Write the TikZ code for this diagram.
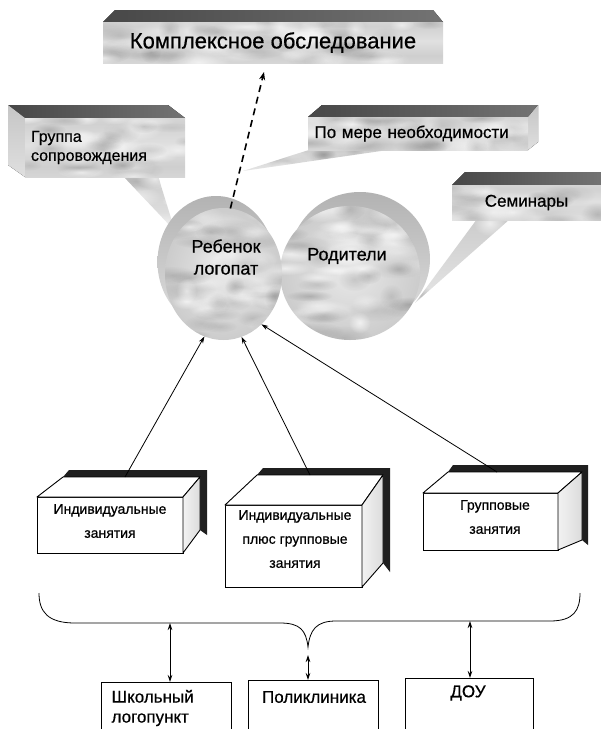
\documentclass[tikz,border=0pt]{standalone}
\usepackage{fontspec}
\setmainfont{Liberation Sans}[FakeBold=0.6]
\usetikzlibrary{arrows.meta,shapes.geometric,calc,fadings}
\pgfdeclareverticalshading{mottle}{100bp}{color(0bp)=(gray!42); color(18bp)=(gray!28); color(34bp)=(gray!38); color(52bp)=(gray!24); color(70bp)=(gray!36); color(86bp)=(gray!26); color(100bp)=(gray!40)}
\tikzfading[name=fuzzy, inner color=transparent!0, outer color=transparent!100]
\newcommand\mottleblobs[5]{%
  \foreach \k in {1,...,#5}{%
    \pgfmathsetmacro\bx{#1+rnd*(#3-#1)}%
    \pgfmathsetmacro\by{#2+rnd*(#4-#2)}%
    \pgfmathsetmacro\bw{10+rnd*22}%
    \pgfmathsetmacro\bh{5+rnd*8}%
    \pgfmathsetmacro\bo{0.3+0.4*rnd}%
    \fill[white, fill opacity=\bo, path fading=fuzzy] (\bx,\by) ellipse [x radius=\bw, y radius=\bh];
    \pgfmathsetmacro\cx{#1+rnd*(#3-#1)}%
    \pgfmathsetmacro\cy{#2+rnd*(#4-#2)}%
    \pgfmathsetmacro\co{0.06+0.12*rnd}%
    \fill[black, fill opacity=\co, path fading=fuzzy] (\cx,\cy) ellipse [x radius=\bw, y radius=\bh];
  }}
\newcommand\mottle[6]{\begin{scope}\clip #1;\mottleblobs{#2}{#3}{#4}{#5}{#6}\end{scope}}
\tikzset{
  frontface/.style={shade, shading=mottle, inner sep=4pt, outer sep=0pt},
  topface/.style={left color=black!72, right color=black!55},
  sideface/.style={top color=gray!45, bottom color=gray!25},
  tailshade/.style={top color=gray!40, bottom color=gray!20},
  discmain/.style={ellipse, shade, inner color=gray!18, outer color=gray!40, outer sep=0pt, inner sep=0pt},
  discback/.style={top color=gray!60, bottom color=gray!25},
  disctext/.style={font=\fontsize{18}{22}\selectfont, align=center},
  cubefront/.style={draw, fill=white, line width=0.9pt, inner sep=0pt, outer sep=0pt},
  cubetop/.style={draw, fill=white, line width=0.9pt, line join=round},
  cubeside/.style={draw, line width=0.9pt, line join=round, left color=gray!10, right color=gray!28},
  cubeshadow/.style={fill=black!88},
  cubetext/.style={font=\fontsize{14}{24}\selectfont, align=center},
  arr/.style={-{Stealth[length=7pt,width=4.5pt]}, line width=0.8pt},
  darr/.style={{Stealth[length=7pt,width=4.5pt]}-{Stealth[length=7pt,width=4.5pt]}, line width=0.8pt},
  dasharrow/.style={-{Stealth[length=8pt,width=6pt]}, line width=1.6pt, dash pattern=on 7pt off 5pt},
  plainbox/.style={draw, line width=0.9pt, fill=white, inner sep=0pt, outer sep=0pt},
  boxtext/.style={font=\fontsize{17}{20}\selectfont, align=left}
}
\begin{document}
\begin{tikzpicture}[x=1pt,y=-1pt]
\pgfmathsetseed{11}
\useasboundingbox (0,0) rectangle (601,729);
\clip (0,0) rectangle (601,729);

% ---- top box
\fill[topface] (103,22) -- (115,10) -- (433,10) -- (443,22) -- cycle;
\node[frontface, minimum width=340pt, minimum height=41pt] (exam) at (273,42.5) {};
\mottle{(exam.north west) rectangle (exam.south east)}{103}{22}{443}{63}{30}
\node[font=\fontsize{22}{26}\selectfont] (examtext) at (exam.center) {Комплексное обследование};
\coordinate (examend) at (264,72);

% ---- callout tails
\shade[tailshade] (123,176) -- (175,231) -- (158,176) -- cycle;
\mottle{(123,176) -- (175,231) -- (158,176) -- cycle}{123}{176}{175}{231}{6}
\shade[tailshade] (312,149) -- (243,171) -- (388,150) -- cycle;
\mottle{(312,149) -- (243,171) -- (388,150) -- cycle}{243}{149}{388}{171}{6}
\shade[tailshade] (477,219) -- (415,303) -- (510,219) -- cycle;
\mottle{(477,219) -- (415,303) -- (510,219) -- cycle}{415}{219}{510}{303}{6}

% ---- Группа сопровождения
\fill[topface] (8,105) -- (168,105) -- (185,118) -- (25,118) -- cycle;
\fill[sideface] (8,105) -- (25,118) -- (25,177) -- (8,165) -- cycle;
\node[frontface, minimum width=160pt, minimum height=59pt] (grp) at (105,147.5) {};
\mottle{(grp.north west) rectangle (grp.south east)}{25}{118}{185}{177}{18}
\node[text width=148pt, align=left, font=\fontsize{16}{19}\selectfont] (grptext) at (grp.center) {Группа\\сопровождения};

% ---- По мере необходимости
\fill[topface] (308,117) -- (322,105) -- (538,105) -- (528,117) -- cycle;
\fill[sideface] (528,117) -- (538,105) -- (538,142) -- (528,150) -- cycle;
\node[frontface, minimum width=220pt, minimum height=33pt] (need) at (418,133.5) {};
\mottle{(need.north west) rectangle (need.south east)}{308}{117}{528}{150}{18}
\node[text width=207pt, align=left, font=\fontsize{17}{20}\selectfont] (needtext) at (need.center) {По мере необходимости};

% ---- Семинары
\fill[topface] (452,185) -- (465,172) -- (601,172) -- (601,185) -- cycle;
\node[frontface, minimum width=149pt, minimum height=35pt] (sem) at (526.5,202.5) {};
\mottle{(sem.north west) rectangle (sem.south east)}{452}{185}{601}{220}{12}
\node[font=\fontsize{17}{20}\selectfont] (semtext) at (sem.center) {Семинары};

% ---- discs
\path[discback] (360,259) ellipse [x radius=70, y radius=67];
\node[discmain, minimum width=140pt, minimum height=134pt] (par) at (350,273) {};
\mottle{(par.center) ellipse [x radius=70, y radius=67]}{280}{206}{420}{340}{32}
\path[discback] (216,262) ellipse [x radius=58.5, y radius=66];
\node[discmain, minimum width=117pt, minimum height=132pt] (child) at (223.5,274) {};
\mottle{(child.center) ellipse [x radius=58.5, y radius=66]}{165}{208}{282}{340}{28}
\node[disctext] (childtext) at (226,257) {Ребенок\\логопат};
\node[disctext] (partext) at (347,256) {Родители};

\draw[dasharrow] (child.84) -- (examend);

% ---- cube 1
\fill[cubeshadow] (63,477) -- (69,470) -- (207,470) -- (207,535) -- (200,530) -- (200,477) -- cycle;
\node[cubefront, minimum width=146pt, minimum height=56pt] (b1) at (110,525) {};
\draw[cubetop] (b1.north west) -- (63,477) -- (200,477) -- (b1.north east) -- cycle;
\draw[cubeside] (b1.north east) -- (200,477) -- (200,530) -- (b1.south east) -- cycle;
\node[cubetext] (t1) at (110,521) {Индивидуальные\\занятия};
\coordinate (b1c) at (125,477);

% ---- cube 2
\fill[cubeshadow] (257,475) -- (263,468) -- (390,468) -- (390,572) -- (383,563) -- (383,475) -- cycle;
\node[cubefront, minimum width=137pt, minimum height=82pt] (b2) at (293.5,546) {};
\draw[cubetop] (b2.north west) -- (257,475) -- (383,475) -- (b2.north east) -- cycle;
\draw[cubeside] (b2.north east) -- (383,475) -- (383,563) -- (b2.south east) -- cycle;
\node[cubetext] (t2) at (295,539) {Индивидуальные\\плюс групповые\\занятия};
\coordinate (b2c) at (310,475);

% ---- cube 3
\fill[cubeshadow] (448,472) -- (453,465) -- (588,465) -- (588,545) -- (582,540) -- (582,472) -- cycle;
\node[cubefront, minimum width=135pt, minimum height=57pt] (b3) at (490.5,521.5) {};
\draw[cubetop] (b3.north west) -- (448,472) -- (582,472) -- (b3.north east) -- cycle;
\draw[cubeside] (b3.north east) -- (582,472) -- (582,540) -- (b3.south east) -- cycle;
\node[cubetext] (t3) at (495,517) {Групповые\\занятия};
\coordinate (b3c) at (497,472);

\draw[arr] (b1c) -- (child.-107);
\draw[arr] (b2c) -- (child.-74);
\draw[arr] (b3c) -- (child.-53);

% ---- brace
\draw[line width=0.8pt] (39,593) .. controls (39,612) and (48,623) .. (75,623) -- (280,623) .. controls (300,623) and (306,630) .. (308,647) .. controls (310,630) and (316,621) .. (336,621) -- (550,621) .. controls (574,621) and (580,610) .. (580,593);
\coordinate (brL) at (170,623);
\coordinate (brM) at (308,655);
\coordinate (brR) at (470,621);

% ---- bottom boxes
\node[plainbox, minimum width=130pt, minimum height=80pt, anchor=north west] (sA) at (101,682) {};
\node[plainbox, minimum width=130pt, minimum height=80pt, anchor=north west] (sB) at (248,680) {};
\node[plainbox, minimum width=128pt, minimum height=80pt, anchor=north west] (sC) at (405,678) {};
\node[boxtext, anchor=west] (tA) at (108,708) {Школьный\\логопункт};
\node[boxtext] (tB) at (314,697) {Поликлиника};
\node[boxtext] (tC) at (468,693) {ДОУ};

\draw[darr] (brL) -- (brL |- sA.north);
\draw[darr] (brM) -- (brM |- sB.north);
\draw[darr] (brR) -- (brR |- sC.north);
\end{tikzpicture}
\end{document}
